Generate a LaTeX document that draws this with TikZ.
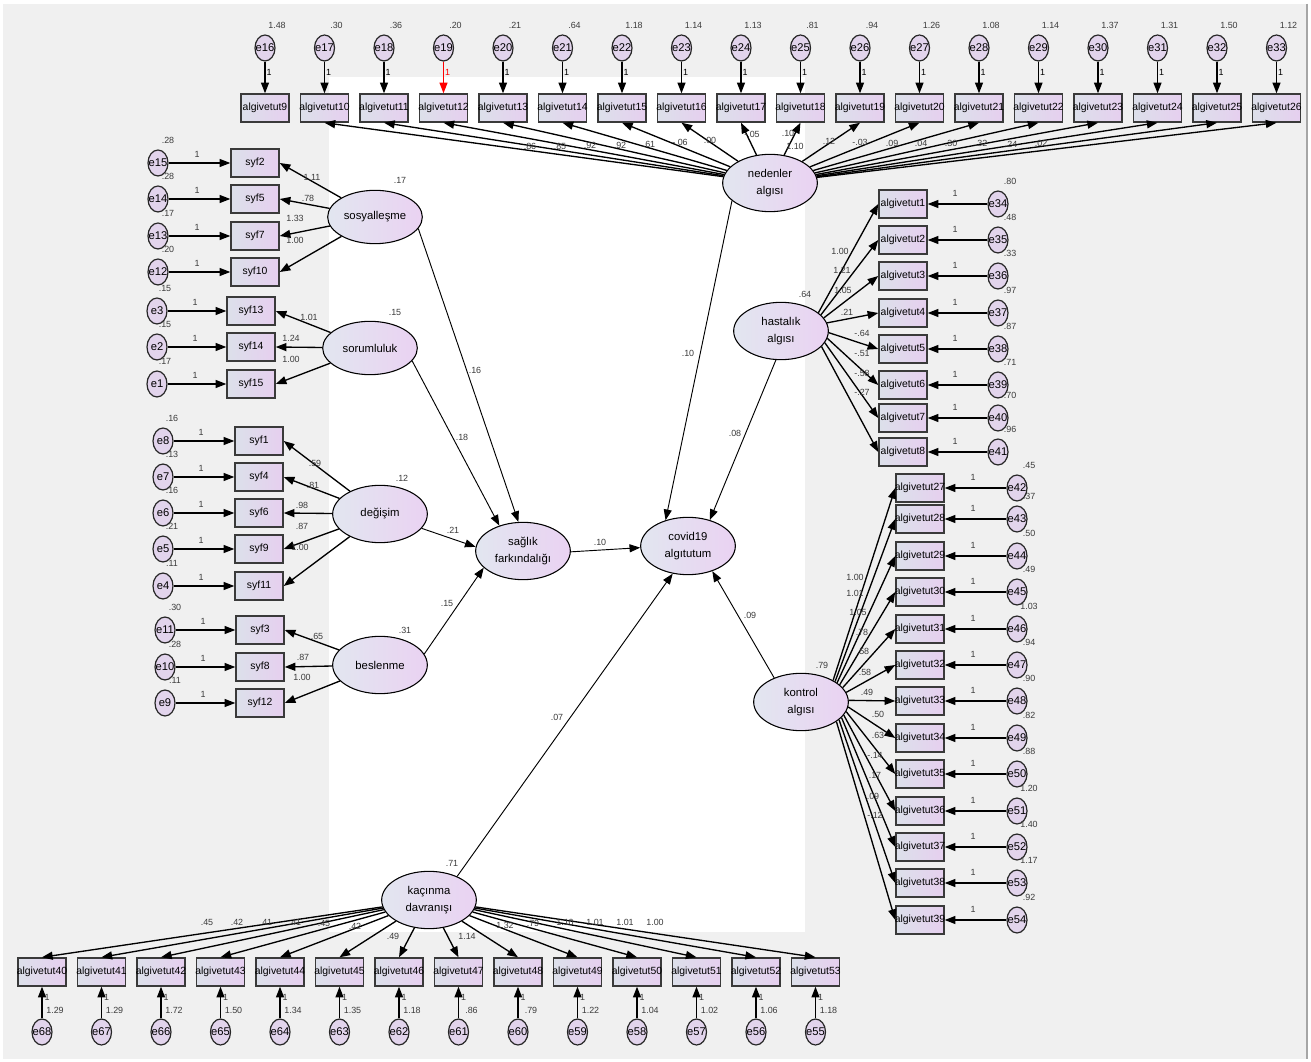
\documentclass[tikz,border=0pt]{standalone}
\usepackage{fontspec}
\setmainfont{Liberation Sans}
\usetikzlibrary{arrows.meta,shapes.geometric}
\definecolor{bggray}{HTML}{F0F0F0}
\definecolor{errfill}{HTML}{E2D4EC}
\definecolor{boxL}{HTML}{DCE0EA}
\definecolor{boxR}{HTML}{E6CFEF}
\definecolor{latL}{HTML}{E2E6F0}
\definecolor{latR}{HTML}{EAD2F2}
\definecolor{boxdraw}{HTML}{3A3A3A}
\definecolor{numc}{HTML}{3C3C3C}
\newcommand\zerow[1]{\makebox[0pt]{#1}}
\tikzset{
  err/.style={ellipse, draw=black!85, line width=0.9pt, fill=errfill, minimum width=15pt, minimum height=19.5pt, inner sep=0pt, font=\fontsize{8.4}{9}\selectfont},
  obs/.style={rectangle, draw=boxdraw, line width=1.1pt, left color=boxL, right color=boxR, minimum width=36pt, minimum height=21pt, inner sep=0pt, font=\fontsize{7.8}{8}\selectfont},
  lat/.style={ellipse, draw=black, line width=0.8pt, left color=latL, right color=latR, minimum width=71pt, minimum height=43pt, inner sep=0pt, align=center, font=\fontsize{8.5}{12.5}\selectfont},
  num/.style={font=\fontsize{6.7}{7}\selectfont, text=numc, inner sep=0pt},
  ld/.style={-{Triangle[length=8pt,width=6pt]}, line width=1pt, draw=black},
  st/.style={-{Triangle[length=8pt,width=6pt]}, line width=0.7pt, draw=black},
}
\begin{document}
\begin{tikzpicture}[x=0.75pt,y=-0.75pt]
\useasboundingbox (0,0) rectangle (1311,1062);
\fill[white] (0,0) rectangle (1311,1062);
\fill[bggray] (3,4) rectangle (1307,1059);
\draw[gray!70, line width=0.8pt] (1307,4) -- (1307,1059);
\fill[white] (329,77) rectangle (805,932);

% latent variables
\node[lat, minimum height=40pt] (sos) at (375,217) {sosyalleşme};
\node[lat, minimum height=40pt] (sor) at (370,348) {sorumluluk};
\node[lat] (deg) at (380,514) {değişim};
\node[lat] (bes) at (380,665) {beslenme};
\node[lat] (sag) at (523,551) {sağlık\\farkındalığı};
\node[lat] (cov) at (688,546) {covid19\\algıtutum};
\node[lat] (ned) at (770,183) {nedenler\\algısı};
\node[lat] (has) at (781,331) {hastalık\\algısı};
\node[lat] (kon) at (801,702) {kontrol\\algısı};
\node[lat] (kac) at (429,900) {kaçınma\\davranışı};

% top row: algivetut9-26, e16-e33
\foreach \i/\v/\c [evaluate=\i as \x using 265+59.5*\i, evaluate=\i as \it using int(9+\i), evaluate=\i as \en using int(16+\i)] in
  {0/1.48/black,1/.30/black,2/.36/black,3/.20/red,4/.21/black,5/.64/black,6/1.18/black,7/1.14/black,8/1.13/black,
   9/.81/black,10/.94/black,11/1.26/black,12/1.08/black,13/1.14/black,14/1.37/black,15/1.31/black,16/1.50/black,17/1.12/black}{
  \node[obs] (t\it) at (\x,108) {\zerow{algivetut\it}};
  \node[err] (e\en) at (\x,48) {\zerow{e\en}};
  \node[num] at (\x+12,25) {\v};
  \node[num, text=\c] at (\x+4,72) {1};
  \draw[ld, draw=\c, fill=\c] (e\en) -- (t\it);
}
\foreach \it in {10,...,26}{\draw[ld] (ned) -- (t\it.south);}
\foreach \px/\py/\l in {530/146/.86,560/146/.85,590/145/.92,620/145/.92,649/144/.61,680/142/-.06,710/140/.00,752/134/-.05,788/133/.10,795/146/1.10,
  829/141/.12,860/142/-.03,892/143/.09,921/143/.04,951/143/.30,981/143/.32,1011/144/.24,1041/143/.02}{
  \node[num] at (\px,\py) {\l};
}

% hastalik algisi: algivetut1-8, e34-e41
\foreach \k/\y/\v/\an [evaluate=\k as \en using int(33+\k)] in {1/204/.80/26,2/240/.48/22,3/276/.33/17,4/313/.97/10,5/349/.87/-2,6/385/.71/-9,7/418/.70/-15,8/452/.96/-21}{
  \node[obs] (a\k) at (903,\y) {\zerow{algivetut\k}};
  \node[err] (e\en) at (998,\y) {\zerow{e\en}};
  \node[num] at (1010,\y-23) {\v};
  \node[num] at (955,\y-11) {1};
  \draw[ld] (e\en) -- (a\k);
  \draw[ld] (has.\an) -- (a\k.west);
}
\foreach \px/\py/\l in {840/251/1.00,842/270/1.21,843/290/1.05,847/312/.21,862/333/-.64,862/353/-.51,862/373/-.58,862/392/-.27}{
  \node[num] at (\px,\py) {\l};
}

% kontrol algisi: algivetut27-39, e42-e54
\foreach \k/\y/\v/\an [evaluate=\k as \en using int(15+\k)] in {27/488/.45/34,28/519/.37/31,29/556/.50/28,30/592/.49/24,31/629/1.03/19,32/665/.94/12,33/701/.90/2,
  34/738/.82/-6,35/774/.88/-12,36/811/1.20/-17,37/847/1.40/-21,38/883/1.17/-25,39/920/.92/-29}{
  \node[obs] (a\k) at (920,\y) {\zerow{algivetut\k}};
  \node[err] (e\en) at (1017,\y) {\zerow{e\en}};
  \node[num] at (1029,\y-23) {\v};
  \node[num] at (973,\y-11) {1};
  \draw[ld] (e\en) -- (a\k);
  \draw[ld] (kon.\an) -- (a\k.west);
}
\foreach \px/\py/\l in {855/577/1.00,855/593/1.01,858/612/1.05,862/632/.78,863/651/.58,865/672/.58,867/692/.49,878/714/.50,878/735/.63,
  875/755/-.14,875/775/.17,873/796/.09,875/815/-.12}{
  \node[num] at (\px,\py) {\l};
}

% kacinma davranisi: algivetut40-53, e68-e55
\foreach \i/\v [evaluate=\i as \x using 42+59.5*\i, evaluate=\i as \it using int(40+\i), evaluate=\i as \en using int(68-\i)] in
  {0/1.29,1/1.29,2/1.72,3/1.50,4/1.34,5/1.35,6/1.18,7/.86,8/.79,9/1.22,10/1.04,11/1.02,12/1.06,13/1.18}{
  \node[obs] (b\it) at (\x,972) {\zerow{algivetut\it}};
  \node[err] (e\en) at (\x,1032) {\zerow{e\en}};
  \node[num] at (\x+13,1010) {\v};
  \node[num] at (\x+5,997) {1};
  \draw[ld] (e\en) -- (b\it);
  \draw[ld] (kac) -- (b\it.north);
}
\foreach \px/\py/\l in {207/922/.45,237/922/.42,266/922/.41,295/922/.41,324/923/.45,355/926/.42,393/936/.49,467/936/1.14,505/925/1.32,
  533/923/.79,565/922/1.10,595/922/1.01,625/922/1.01,655/922/1.00}{
  \node[num] at (\px,\py) {\l};
}

% left side groups
\foreach \n/\en/\y/\v in {2/15/163/.28,5/14/199/.28,7/13/236/.17,10/12/272/.20}{
  \node[obs] (s\n) at (255,\y) {\zerow{syf\n}};
  \node[err] (e\en) at (158,\y) {\zerow{e\en}};
  \node[num] at (168,\y-23) {\v};
  \node[num] at (197,\y-9) {1};
  \draw[ld] (e\en) -- (s\n);
  \draw[ld] (sos) -- (s\n.east);
}
\foreach \n/\en/\y/\v in {13/3/311/.15,14/2/347/.15,15/1/384/.17}{
  \node[obs] (s\n) at (251,\y) {\zerow{syf\n}};
  \node[err] (e\en) at (157,\y) {\zerow{e\en}};
  \node[num] at (165,\y-23) {\v};
  \node[num] at (195,\y-9) {1};
  \draw[ld] (e\en) -- (s\n);
  \draw[ld] (sor) -- (s\n.east);
}
\foreach \n/\en/\y/\v in {1/8/441/.16,4/7/477/.13,6/6/513/.16,9/5/549/.21,11/4/586/.11}{
  \node[obs] (s\n) at (259,\y) {\zerow{syf\n}};
  \node[err] (e\en) at (163,\y) {\zerow{e\en}};
  \node[num] at (172,\y-23) {\v};
  \node[num] at (201,\y-9) {1};
  \draw[ld] (e\en) -- (s\n);
  \draw[ld] (deg) -- (s\n.east);
}
\foreach \n/\en/\y/\v in {3/11/630/.30,8/10/667/.28,12/9/703/.11}{
  \node[obs] (s\n) at (260,\y) {\zerow{syf\n}};
  \node[err] (e\en) at (165,\y) {\zerow{e\en}};
  \node[num] at (175,\y-23) {\v};
  \node[num] at (203,\y-9) {1};
  \draw[ld] (e\en) -- (s\n);
  \draw[ld] (bes) -- (s\n.east);
}
\foreach \px/\py/\l in {312/177/1.11,308/198/.78,295/218/1.33,295/240/1.00,309/317/1.01,291/338/1.24,291/359/1.00,
  315/463/.59,313/485/.81,302/505/.98,302/526/.87,300/547/1.00,317/636/.65,303/657/.87,302/677/1.00}{
  \node[num] at (\px,\py) {\l};
}

% latent variances
\foreach \px/\py/\l in {400/180/.17,395/312/.15,402/478/.12,405/630/.31,805/294/.64,822/665/.79,452/863/.71}{
  \node[num] at (\px,\py) {\l};
}

% structural paths
\draw[st] (sos.-15) -- (sag.99);
\draw[st] (sor.-17) -- (sag.133);
\draw[st] (deg.-19) -- (sag.175);
\draw[st] (bes.14) -- (sag.-157);
\draw[st] (sag.-1) -- (cov.182);
\draw[st] (ned.-155) -- (cov.131);
\draw[st] (has.-100) -- (cov.50);
\draw[st] (kon.138) -- (cov.-46);
\draw[st] (kac.40) -- (cov.-119);
\foreach \px/\py/\l in {475/370/.16,462/437/.18,453/530/.21,447/603/.15,600/542/.10,688/353/.10,735/433/.08,750/615/.09,557/717/.07}{
  \node[num] at (\px,\py) {\l};
}
\end{tikzpicture}
\end{document}
